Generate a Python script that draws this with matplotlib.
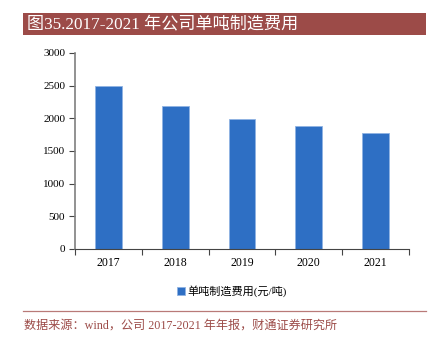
import matplotlib
matplotlib.use("Agg")
import matplotlib.pyplot as plt
from matplotlib.patches import Rectangle
from matplotlib.lines import Line2D

years = ["2017", "2018", "2019", "2020", "2021"]
cost = [2490, 2185, 1990, 1880, 1775]
series_name = "单吨制造费用(元/吨)"
title = "图35.2017-2021 年公司单吨制造费用"
source = "数据来源：wind，公司 2017-2021 年年报，财通证券研究所"

FAM = ["Liberation Serif", "Noto Sans CJK SC"]
plt.rcParams["font.family"] = FAM

W, H = 436, 337
fig = plt.figure(figsize=(W / 100, H / 100), dpi=100)

def fx(x): return x / W
def fy(y): return 1 - y / H

# title banner
fig.patches.append(Rectangle((fx(23), fy(35)), fx(426) - fx(23), fy(13) - fy(35),
                             transform=fig.transFigure, facecolor="#9C4B48", edgecolor="none"))
fig.text(fx(27), fy(24), title, color="white", fontsize=12.3, va="center", ha="left", family=FAM)

ax = fig.add_axes([fx(75), fy(249), fx(409) - fx(75), fy(53) - fy(249)])
x = range(len(years))
bars = ax.bar(x, cost, width=0.4, color="#2E6FC4", edgecolor="#8FB3E3", linewidth=0.6,
              label=series_name)
ax.set_xlim(-0.5, len(years) - 0.5)
ax.set_ylim(0, 3000)
ax.set_yticks(range(0, 3001, 500))
ax.set_xticks([i - 0.5 for i in range(len(years) + 1)], minor=False)
ax.set_xticklabels([""] * (len(years) + 1))
ax.set_xticks(list(x), minor=True)
ax.set_xticklabels(years, minor=True)
ax.tick_params(axis="x", which="minor", length=0, pad=6, labelsize=8.5)
ax.tick_params(axis="x", which="major", length=4, direction="out", color="#444444")
ax.tick_params(axis="y", length=4, direction="out", labelsize=8, color="#444444", pad=3)
for s in ["top", "right"]:
    ax.spines[s].set_visible(False)
ax.spines["left"].set_color("#7F7F7F")
ax.spines["bottom"].set_color("#444444")
ax.spines["left"].set_linewidth(1.2)

leg = fig.legend(handles=[bars], labels=[series_name], loc="center",
                 bbox_to_anchor=(fx(232), fy(291)), frameon=False,
                 handlelength=0.7, handleheight=0.7, handletextpad=0.3,
                 prop={"family": FAM, "size": 8})

fig.add_artist(Line2D([fx(23), fx(426)], [fy(311), fy(311)], transform=fig.transFigure,
                      color="#B97A78", linewidth=0.9))
fig.text(fx(24), fy(326), source, color="#9C4B48", fontsize=8.7, va="center", ha="left", family=FAM)

fig.savefig("out.png", dpi=100)
